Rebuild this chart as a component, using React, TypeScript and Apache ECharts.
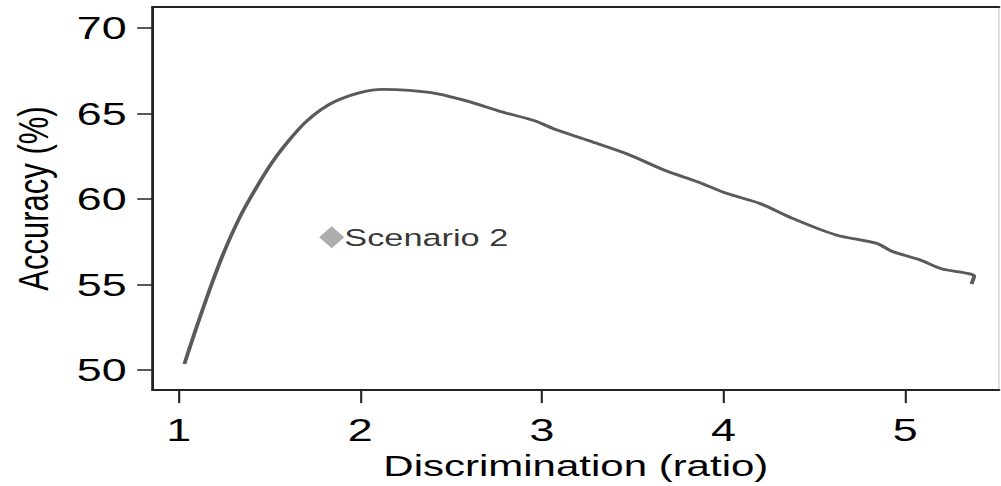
import React, { useEffect, useRef } from "react";
import * as echarts from "echarts";

// ---- data ----
const xTicks = [1, 2, 3, 4, 5];
const yTicks = [50, 55, 60, 65, 70];

const curveX = [
  1.032, 1.092, 1.168, 1.244, 1.334, 1.425, 1.516, 1.606, 1.697, 1.787, 1.878,
  1.999, 2.119, 2.27, 2.42, 2.6, 2.78, 2.96, 3.08, 3.26, 3.47, 3.68, 3.86, 4.02,
  4.2, 4.38, 4.62, 4.84, 4.93, 5.08, 5.2, 5.38, 5.365,
];
const curveY = [
  50.35, 52.29, 54.61, 56.74, 58.87, 60.61, 62.16, 63.41, 64.48, 65.26, 65.8,
  66.23, 66.42, 66.36, 66.17, 65.7, 65.1, 64.58, 64.05, 63.41, 62.64, 61.67,
  61.0, 60.32, 59.74, 58.87, 57.9, 57.42, 56.93, 56.45, 55.92, 55.48, 55.03,
];

const scenarioName = "Scenario 2";
const scenarioX = 1.843;
const scenarioY = 57.76;

const xName = "Discrimination (ratio)";
const yName = "Accuracy (%)";

// ---- layout ----
const STRETCH = 1.4;
const OUT_W = 1001;
const OUT_H = 486;
const IN_W = OUT_W / STRETCH;

const FONT = "'Liberation Sans', Arial, Helvetica, sans-serif";

export default function App() {
  const ref = useRef<HTMLDivElement>(null);

  useEffect(() => {
    if (!ref.current) return;
    const chart = echarts.init(ref.current, undefined, { renderer: "svg" });
    const lineData = curveX.map((x, i) => [x, curveY[i]]);
    chart.setOption({
      animation: false,
      backgroundColor: "#ffffff",
      textStyle: { fontFamily: FONT },
      grid: { left: 108.6, right: 1.4, top: 7, bottom: 93, containLabel: false },
      xAxis: [
        {
          type: "value",
          min: 0.857,
          max: 5.517,
          name: xName,
          nameLocation: "middle",
          nameGap: 57,
          nameTextStyle: { fontSize: 30, color: "#000", fontFamily: FONT },
          axisLine: { show: true, onZero: false, lineStyle: { color: "#222", width: 2 } },
          axisTick: {
            show: true,
            length: 13,
            customValues: xTicks,
            lineStyle: { color: "#222", width: 1.5 },
          },
          axisLabel: {
            show: true,
            customValues: xTicks,
            margin: 24,
            fontSize: 32,
            color: "#000",
            fontFamily: FONT,
          },
          splitLine: { show: false },
        },
        {
          type: "value",
          position: "top",
          min: 0.857,
          max: 5.517,
          axisLine: { show: true, onZero: false, lineStyle: { color: "#222", width: 2 } },
          axisTick: { show: false },
          axisLabel: { show: false },
          splitLine: { show: false },
        },
      ],
      yAxis: [
        {
          type: "value",
          min: 48.82,
          max: 71.24,
          name: yName,
          nameLocation: "middle",
          nameGap: 70,
          nameTextStyle: { fontSize: 31, color: "#000", fontFamily: FONT },
          axisLine: { show: true, onZero: false, lineStyle: { color: "#222", width: 2 } },
          axisTick: {
            show: true,
            length: 11,
            customValues: yTicks,
            lineStyle: { color: "#222", width: 1.5 },
          },
          axisLabel: {
            show: true,
            customValues: yTicks,
            margin: 18.6,
            fontSize: 32,
            color: "#000",
            fontFamily: FONT,
          },
          splitLine: { show: false },
        },
        {
          type: "value",
          position: "right",
          min: 48.82,
          max: 71.24,
          axisLine: { show: true, onZero: false, lineStyle: { color: "#d0d0d0", width: 1 } },
          axisTick: { show: false },
          axisLabel: { show: false },
          splitLine: { show: false },
        },
      ],
      series: [
        {
          type: "line",
          data: lineData,
          xAxisIndex: 0,
          yAxisIndex: 0,
          showSymbol: false,
          symbol: "none",
          smooth: 0.3,
          lineStyle: { color: "#5a5a5a", width: 2.8 },
          silent: true,
        },
        {
          type: "scatter",
          data: [[scenarioX, scenarioY]],
          xAxisIndex: 0,
          yAxisIndex: 0,
          symbol: "diamond",
          symbolSize: [18, 22],
          itemStyle: { color: "#9a9a9a" },
          label: {
            show: true,
            position: "right",
            distance: 0,
            formatter: scenarioName,
            fontSize: 24.5,
            color: "#000",
            fontFamily: FONT,
          },
          silent: true,
        },
      ],
    });
    return () => chart.dispose();
  }, []);

  return (
    <div
      style={{
        position: "fixed",
        left: 0,
        top: 0,
        width: OUT_W,
        height: OUT_H,
        overflow: "hidden",
        background: "#fff",
      }}
    >
      <div
        ref={ref}
        style={{
          width: IN_W,
          height: OUT_H,
          transform: `scaleX(${STRETCH})`,
          transformOrigin: "0 0",
        }}
      />
    </div>
  );
}
